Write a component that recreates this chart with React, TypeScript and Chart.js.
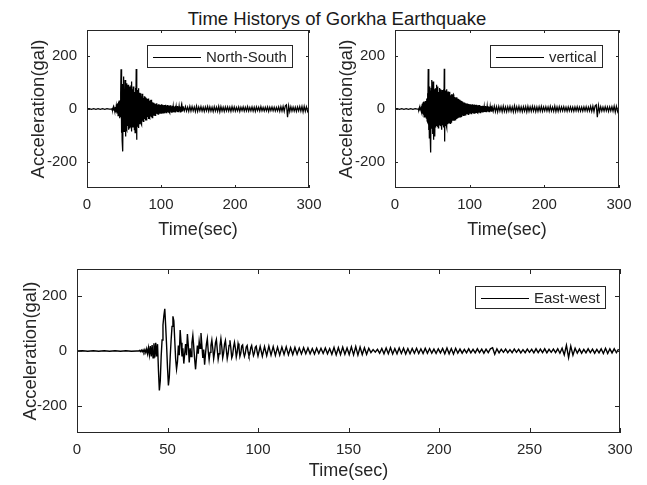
import React, { useEffect, useRef } from "react";
import { Chart, registerables } from "chart.js";

Chart.register(...registerables);

// ---------------- data ----------------
const topXTicks = [0, 100, 200, 300];
const bottomXTicks = [0, 50, 100, 150, 200, 250, 300];
const yTicks = [-200, 0, 200];

// North-South: quiet (t = 0..30, dt 3), onset (t = 33.., dt 0.5), tail (t = 130.., dt 1.5)
const nsQuiet = [0, 1, -1, 1, -1, 1, -1, 1, -1, 1, 0];
const nsOnset = [
  0, 3, -4, 5, -3, 6, -5, 4, -6, 7,
  -5, 8, -9, 10, -12, 18, -15, 22, -25, 28,
  -20, 32, -35, 30, -28, 60, 151, -90, 70, -120,
  95, -161, 60, 123, -85, 75, -60, 110, -104, 70,
  -75, 98, -80, 88, -65, 92, -79, 70, -72, 85,
  -60, 78, -70, 90, -85, 104, -68, 75, -62, 85,
  -70, 72, -78, 65, -90, 80, -60, 152, -117, 60,
  -65, 72, -55, 79, -72, 55, -58, 62, -50, 60,
  -55, 48, -60, 58, -45, 50, -47, 42, -40, 48,
  -38, 45, -44, 36, -41, 41, -35, 38, -30, 35,
  -38, 40, -32, 30, -35, 33, -28, 35, -30, 28,
  -33, 26, -25, 24, -26, 22, -20, 21, -24, 18,
  -22, 20, -18, 22, -17, 16, -19, 18, -15, 14,
  -18, 17, -14, 15, -16, 18, -13, 12, -17, 16,
  -15, 14, -12, 15, -16, 13, -12, 16, -14, 11,
  -13, 15, -12, 12, -14, 13, -11, 12, -15, 14,
  -10, 11, -12, 10, -11, 12, -9, 10, -12, 11,
  -10, 9, -11, 12, -10, 9, -8, 10, -9, 11,
  -10, 8, -9, 10, -8, 9, -11, 8, -7, 9,
  -10, 8, -9, 7,
];
const nsTail = [
  8, -7, 9, -8, 7, -9, 10, -8, 9, -7,
  8, -10, 11, -9, 8, -7, 9, -8, 7, -9,
  8, -7, 10, -9, 8, -8, 7, -10, 9, -8,
  7, -9, 10, -11, 9, -8, 7, -9, 8, -7,
  8, -8, 7, -9, 9, -7, 8, -8, 6, -7,
  8, -9, 7, -6, 8, -8, 7, -7, 9, -8,
  6, -7, 8, -8, 7, -9, 8, -6, 7, -8,
  9, -7, 6, -8, 7, -7, 8, -9, 7, -6,
  8, -7, 7, -8, 6, -7, 8, -9, 9, -8,
  10, -9, 12, 16, -31, 12, -10, 9, -8, 7,
  -8, 7, -9, 8, -7, 9, -8, 10, -11, 10,
  -9, 8, -8, 7,
];

// vertical: quiet (t = 0..30, dt 3), onset (t = 31.., dt 0.5), tail (t = 130.., dt 1.5)
const vtQuiet = [0, 1, -1, 1, -1, 1, -1, 1, -1, 1, 0];
const vtOnset = [
  0, 3, -3, 4, -5, 6, -5, 7, -8, 12,
  -15, 20, -18, 25, -22, 28, -30, 26, -25, 30,
  -32, 28, -35, 40, -45, 60, -50, 152, -80, 95,
  -110, 85, -90, 70, -165, 80, 110, -75, 90, -95,
  104, -117, 85, -80, 75, -104, 78, -70, 80, 92,
  -65, 70, -68, 85, -72, 65, -60, 80, -58, 75,
  -65, 70, -60, -79, 72, -62, 68, -55, 75, -70,
  153, -123, 62, -65, 70, -60, 75, -70, 62, -58,
  66, -55, 60, -52, 58, 65, -55, 52, -50, 56,
  -48, 50, -45, 52, 55, -45, 48, -42, 46, -40,
  44, -38, 42, 45, -38, 40, -35, 38, -33, 36,
  -30, 34, 35, -30, 32, -28, 30, -27, 28, -25,
  27, -24, 25, -23, 24, 25, -22, 22, -21, 20,
  -20, 21, -19, 18, -20, 19, -17, 18, -18, 17,
  -16, 18, -18, 16, -17, 18, -15, 16, -17, 15,
  -16, 17, -14, 15, -16, 14, -15, 16, -13, 14,
  -15, 13, -14, 15, -12, 13, -14, 12, -13, 11,
  -12, 10, -11, 12, -10, 11, -10, 9, -11, 10,
  -9, 11, -10, 9, -10, 11, -9, 10, -8, 9,
  -10, 8, -9, 10, -8, 9, -8, 7,
];
const vtTail = [
  10, -9, 11, -10, 9, -11, 10, -8, 9, -10,
  11, -9, 8, -10, 9, -8, 10, -9, 8, -11,
  12, -10, 9, -8, 10, -9, 8, -10, 9, -8,
  9, -11, 10, -9, 8, -9, 10, -8, 9, -10,
  8, -9, 9, -8, 10, -9, 8, -7, 9, -8,
  8, -9, 10, -8, 7, -9, 11, -10, 8, -9,
  9, -8, 8, -7, 9, -8, 7, -9, 8, -7,
  8, -8, 7, -9, 8, -7, 9, -8, 7, -8,
  7, -8, 8, -7, 9, -8, 7, -8, 10, -9,
  11, -10, 12, 16, -31, 13, -10, 9, -8, 7,
  -8, 9, -7, 8, -9, 8, -7, 9, -8, 11,
  -12, 10, -9, 8,
];

// East-west: quiet (t = 0..33, dt 3), onset (t = 34.., dt 0.5), tail (t = 100.., dt 1.2)
const ewQuiet = [0, 1, -1, 1, -1, 1, -1, 1, -1, 1, -1, 0];
const ewOnset = [
  0, 2, -2, 3, -3, 4, -4, 5, -6, 8,
  -10, 12, -14, 18, -20, 22, -25, 28, -24, 30,
  -20, 25, -70, -144, -110, -20, 40, 95, 130, 154,
  90, 20, -60, -126, -95, -20, 40, 90, 127, 110,
  40, -30, -66, -40, 20, -15, 77, 30, -20, 10,
  -46, -10, 25, -15, 62, 20, -42, 10, -20, 30,
  57, 15, -30, -67, -25, 20, -10, 35, 10, 66,
  20, -25, 5, -50, -10, 25, 45, 0, -32, -5,
  20, 40, 10, -28, -5, 30, 42, 5, -30, -10,
  20, 45, 15, -25, -8, 25, 38, 5, -28, -10,
  20, 39, 10, -25, -15, 15, 32, 10, -22, -5,
  27, 12, -20, -8, 18, 22, -5, -20, -8, 15,
  20, -3, -18, -10, 12, 20, 0, -17, -8, 14,
  18, -2,
];
const ewTail = [
  -18, 17, -19, 16, -17, 18, -15, 16, -16, 14,
  -15, 14, -13, 15, -14, 12, -13, 13, -12, 11,
  -11, 12, -10, 11, -10, 9, -11, 10, -9, 10,
  -9, 11, -10, 9, -12, 13, -14, 12, -13, 14,
  -12, 11, -13, 15, -14, 16, -15, 14, -13, 12,
  -12, 10, -6, 5, -4, 6, -8, 9, -10, 11,
  -10, 12, -11, 9, -10, 11, -9, 10, -11, 9,
  -10, 9, -8, 10, -9, 8, -9, 10, -8, 9,
  -8, 7, -9, 8, -7, 9, -10, 11, -10, 9,
  -11, 10, -8, 7, -8, 6, -7, 8, -7, 6,
  -7, 8, -6, 7, -8, 7, -6, 8, 12, -12,
  8, -7, 6, -5, 7, -6, 5, -6, 7, -5,
  6, -7, 5, -6, 7, -5, 6, -7, 8, -6,
  7, -6, 8, -7, 6, -5, 7, -6, 8, -8,
  10, -14, 21, -24, 18, -15, 10, -8, 7, -8,
  6, -7, 8, -6, 7, -8, 6, -7, 8, -9,
  10, -9, 8, -7, 8, -6, 7,
];

// ---------------- styling ----------------
const FONT = "'Liberation Sans', Arial, Helvetica, sans-serif";
const AXIS_COLOR = "#262626";

function segment(start: number, step: number, values: number[]) {
  return values.map((v, i) => ({ x: Math.round((start + i * step) * 100) / 100, y: v }));
}

const nsPoints = [...segment(0, 3, nsQuiet), ...segment(33, 0.5, nsOnset), ...segment(130, 1.5, nsTail)];
const vtPoints = [...segment(0, 3, vtQuiet), ...segment(31, 0.5, vtOnset), ...segment(130, 1.5, vtTail)];
const ewPoints = [...segment(0, 3, ewQuiet), ...segment(34, 0.5, ewOnset), ...segment(100, 1.2, ewTail)];

const framePlugin = {
  id: "matlabFrame",
  afterDatasetsDraw(chart: any, _args: any, opts: any) {
    const { ctx, chartArea: a, scales } = chart;
    const L = opts.tickLength || 3;
    ctx.save();
    ctx.strokeStyle = AXIS_COLOR;
    ctx.lineWidth = 1;
    ctx.beginPath();
    for (const t of scales.x.ticks) {
      const px = Math.round(scales.x.getPixelForValue(t.value)) + 0.5;
      ctx.moveTo(px, a.bottom);
      ctx.lineTo(px, a.bottom - L);
      ctx.moveTo(px, a.top);
      ctx.lineTo(px, a.top + L);
    }
    for (const t of scales.y.ticks) {
      const py = Math.round(scales.y.getPixelForValue(t.value)) + 0.5;
      ctx.moveTo(a.left, py);
      ctx.lineTo(a.left + L, py);
      ctx.moveTo(a.right, py);
      ctx.lineTo(a.right - L, py);
    }
    ctx.stroke();
    ctx.strokeRect(a.left + 0.5, a.top + 0.5, a.right - a.left - 1, a.bottom - a.top - 1);
    ctx.restore();
  },
};

const boxLegendPlugin = {
  id: "boxLegend",
  afterDraw(chart: any, _args: any, opts: any) {
    const { ctx, chartArea: a } = chart;
    const label = chart.data.datasets[0].label as string;
    ctx.save();
    ctx.font = `15px ${FONT}`;
    const tw = ctx.measureText(label).width;
    const lineLen = 48;
    const w = Math.round(6 + lineLen + 5 + tw + 6);
    const h = opts.height || 23;
    const x0 = Math.round(a.right - opts.right - w);
    const y0 = Math.round(a.top + opts.top);
    ctx.fillStyle = "#ffffff";
    ctx.fillRect(x0, y0, w, h);
    ctx.strokeStyle = AXIS_COLOR;
    ctx.lineWidth = 1;
    ctx.strokeRect(x0 + 0.5, y0 + 0.5, w - 1, h - 1);
    const cy = y0 + h / 2;
    ctx.strokeStyle = "#000000";
    ctx.beginPath();
    ctx.moveTo(x0 + 6, Math.round(cy) + 0.5);
    ctx.lineTo(x0 + 6 + lineLen, Math.round(cy) + 0.5);
    ctx.stroke();
    ctx.fillStyle = AXIS_COLOR;
    ctx.textBaseline = "middle";
    ctx.textAlign = "left";
    ctx.fillText(label, x0 + 6 + lineLen + 5, cy + 1);
    ctx.restore();
  },
};

type Geo = {
  width: number;
  height: number;
  yAxisWidth: number;
  xAxisHeight: number;
  padTop: number;
  padRight: number;
  yTitlePad: number;
  xTitlePad: number;
  tickLength: number;
  legendRight: number;
  legendTop: number;
  lineWidth: number;
};

function makeConfig(points: { x: number; y: number }[], label: string, xTicks: number[], g: Geo): any {
  return {
    type: "line",
    data: {
      datasets: [
        {
          label,
          data: points,
          borderColor: "#000000",
          borderWidth: g.lineWidth,
          pointRadius: 0,
          tension: 0,
          fill: false,
        },
      ],
    },
    options: {
      animation: false,
      responsive: false,
      parsing: false,
      events: [],
      layout: { padding: { left: 0, top: g.padTop, right: g.padRight, bottom: 0 } },
      plugins: {
        legend: { display: false },
        tooltip: { enabled: false },
        title: { display: false },
        matlabFrame: { tickLength: g.tickLength },
        boxLegend: { right: g.legendRight, top: g.legendTop, height: 23 },
      },
      scales: {
        x: {
          type: "linear",
          min: 0,
          max: 300,
          afterBuildTicks: (s: any) => {
            s.ticks = xTicks.map((v) => ({ value: v }));
          },
          afterFit: (s: any) => {
            s.height = g.xAxisHeight;
          },
          grid: { display: false, drawTicks: false, tickLength: 0 },
          border: { display: false },
          ticks: {
            padding: 8,
            color: AXIS_COLOR,
            font: { family: FONT, size: 15 },
            maxRotation: 0,
            autoSkip: false,
          },
          title: {
            display: true,
            text: "Time(sec)",
            color: AXIS_COLOR,
            font: { family: FONT, size: 18 },
            padding: { top: 0, bottom: g.xTitlePad },
          },
        },
        y: {
          type: "linear",
          min: -300,
          max: 300,
          afterBuildTicks: (s: any) => {
            s.ticks = yTicks.map((v) => ({ value: v }));
          },
          afterFit: (s: any) => {
            s.width = g.yAxisWidth;
          },
          grid: { display: false, drawTicks: false, tickLength: 0 },
          border: { display: false },
          ticks: {
            padding: 10,
            color: AXIS_COLOR,
            font: { family: FONT, size: 15 },
            autoSkip: false,
          },
          title: {
            display: true,
            text: "Acceleration(gal)",
            color: AXIS_COLOR,
            font: { family: FONT, size: 18.5 },
            padding: { top: g.yTitlePad, bottom: 0 },
          },
        },
      },
    },
    plugins: [framePlugin, boxLegendPlugin],
  };
}

const geoTL: Geo = {
  width: 330, height: 250, yAxisWidth: 87, xAxisHeight: 62, padTop: 30, padRight: 21,
  yTitlePad: 28, xTitlePad: 9, tickLength: 3, legendRight: 16, legendTop: 15, lineWidth: 1.25,
};
const geoTR: Geo = {
  width: 317, height: 250, yAxisWidth: 65, xAxisHeight: 62, padTop: 30, padRight: 28,
  yTitlePad: 6, xTitlePad: 9, tickLength: 3, legendRight: 16, legendTop: 15, lineWidth: 1.25,
};
const geoB: Geo = {
  width: 647, height: 235, yAxisWidth: 77, xAxisHeight: 52, padTop: 15, padRight: 27,
  yTitlePad: 20, xTitlePad: 3, tickLength: 5, legendRight: 14, legendTop: 17, lineWidth: 1.4,
};

export default function App() {
  const tlRef = useRef<HTMLCanvasElement>(null);
  const trRef = useRef<HTMLCanvasElement>(null);
  const bRef = useRef<HTMLCanvasElement>(null);

  useEffect(() => {
    const charts = [
      new Chart(tlRef.current as HTMLCanvasElement, makeConfig(nsPoints, "North-South", topXTicks, geoTL)),
      new Chart(trRef.current as HTMLCanvasElement, makeConfig(vtPoints, "vertical", topXTicks, geoTR)),
      new Chart(bRef.current as HTMLCanvasElement, makeConfig(ewPoints, "East-west", bottomXTicks, geoB)),
    ];
    return () => charts.forEach((c) => c.destroy());
  }, []);

  return (
    <div style={{ position: "absolute", left: 0, top: 0, width: 647, height: 485, overflow: "hidden", background: "#fff" }}>
      <div
        style={{
          position: "absolute",
          left: 27,
          top: 8,
          width: 620,
          textAlign: "center",
          fontFamily: FONT,
          fontSize: "18.5px",
          lineHeight: "22px",
          color: "#1a1a1a",
          whiteSpace: "nowrap",
        }}
      >
        Time Historys of Gorkha Earthquake
      </div>
      <canvas ref={tlRef} width={geoTL.width} height={geoTL.height} style={{ position: "absolute", left: 0, top: 0, width: geoTL.width, height: geoTL.height }} />
      <canvas ref={trRef} width={geoTR.width} height={geoTR.height} style={{ position: "absolute", left: 330, top: 0, width: geoTR.width, height: geoTR.height }} />
      <canvas ref={bRef} width={geoB.width} height={geoB.height} style={{ position: "absolute", left: 0, top: 250, width: geoB.width, height: geoB.height }} />
    </div>
  );
}
